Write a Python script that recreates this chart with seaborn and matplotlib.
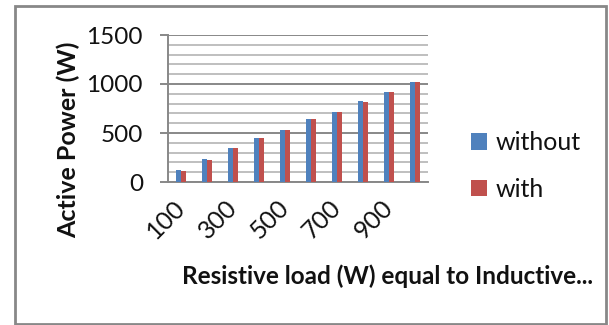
import matplotlib
matplotlib.use("Agg")
import matplotlib.pyplot as plt
from matplotlib.patches import Rectangle
from matplotlib.ticker import MultipleLocator
import seaborn as sns
import pandas as pd

# Resistive load steps (W) and measured active power (W)
loads = [100, 200, 300, 400, 500, 600, 700, 800, 900, 1000]
without = [120, 235, 350, 452, 534, 646, 717, 826, 922, 1017]
with_ = [116, 229, 347, 446, 527, 644, 711, 820, 918, 1017]
series = ["without", "with"]
colors = ["#4F81BD", "#C0504D"]

df = pd.DataFrame({
    "load": [str(v) for v in loads] * 2,
    "power": without + with_,
    "series": [series[0]] * len(loads) + [series[1]] * len(loads),
})

sns.set_style("white")
plt.rcParams["font.family"] = ["Lato", "DejaVu Sans"]
plt.rcParams["text.color"] = "#111111"

fig = plt.figure(figsize=(6.09, 3.25), dpi=100)
ax = fig.add_axes([168 / 609, 1 - 182 / 325, 260 / 609, 147 / 325])

sns.barplot(data=df, x="load", y="power", hue="series", hue_order=series,
            palette=colors, width=0.42, saturation=1, ax=ax, zorder=3,
            edgecolor="none")

ax.set_ylim(0, 1500)
ax.set_xlim(-0.5, len(loads) - 0.5)
ax.yaxis.set_major_locator(MultipleLocator(500))
ax.yaxis.set_minor_locator(MultipleLocator(100))
ax.grid(axis="y", which="major", color="#888888", linewidth=1.4, zorder=0)
ax.grid(axis="y", which="minor", color="#b4b4b4", linewidth=1.2, zorder=0)
ax.set_axisbelow(True)

for side in ["top", "right"]:
    ax.spines[side].set_visible(False)
for side in ["left", "bottom"]:
    ax.spines[side].set_color("#888888")
    ax.spines[side].set_linewidth(1.4)

ax.tick_params(axis="y", which="major", length=6, width=1.4, color="#888888",
               labelsize=17.5, pad=12, left=True, labelcolor="#111111")
ax.tick_params(axis="y", which="minor", length=0)
ax.tick_params(axis="x", length=0, labelsize=18, pad=16, labelcolor="#111111")

ax.set_xticks(range(len(loads)))
ax.set_xticklabels([str(v) if i % 2 == 0 else "" for i, v in enumerate(loads)],
                   rotation=45, ha="right", va="center", rotation_mode="anchor")

ax.set_xlabel("")
ax.set_ylabel("")
fig.text(68 / 609, 1 - 140 / 325, "Active Power (W)", rotation=90,
         ha="center", va="center", fontsize=18, fontweight="bold")
fig.text(387 / 609, 1 - 276 / 325, "Resistive load (W) equal to Inductive...",
         ha="center", va="center", fontsize=17.5, fontweight="bold")

handles, labels = ax.get_legend_handles_labels()
ax.legend(handles, labels, loc="center left", bbox_to_anchor=(471 / 609, 1 - 166 / 325),
          bbox_transform=fig.transFigure, frameon=False, fontsize=18,
          handlelength=0.65, handleheight=0.65, handletextpad=0.35,
          labelspacing=0.95, borderaxespad=0, borderpad=0)

fig.patches.append(Rectangle((15 / 609, 1 / 325), 591 / 609, 318 / 325,
                             transform=fig.transFigure, fill=False,
                             edgecolor="#888888", linewidth=2))

fig.savefig("out.png", dpi=100)
